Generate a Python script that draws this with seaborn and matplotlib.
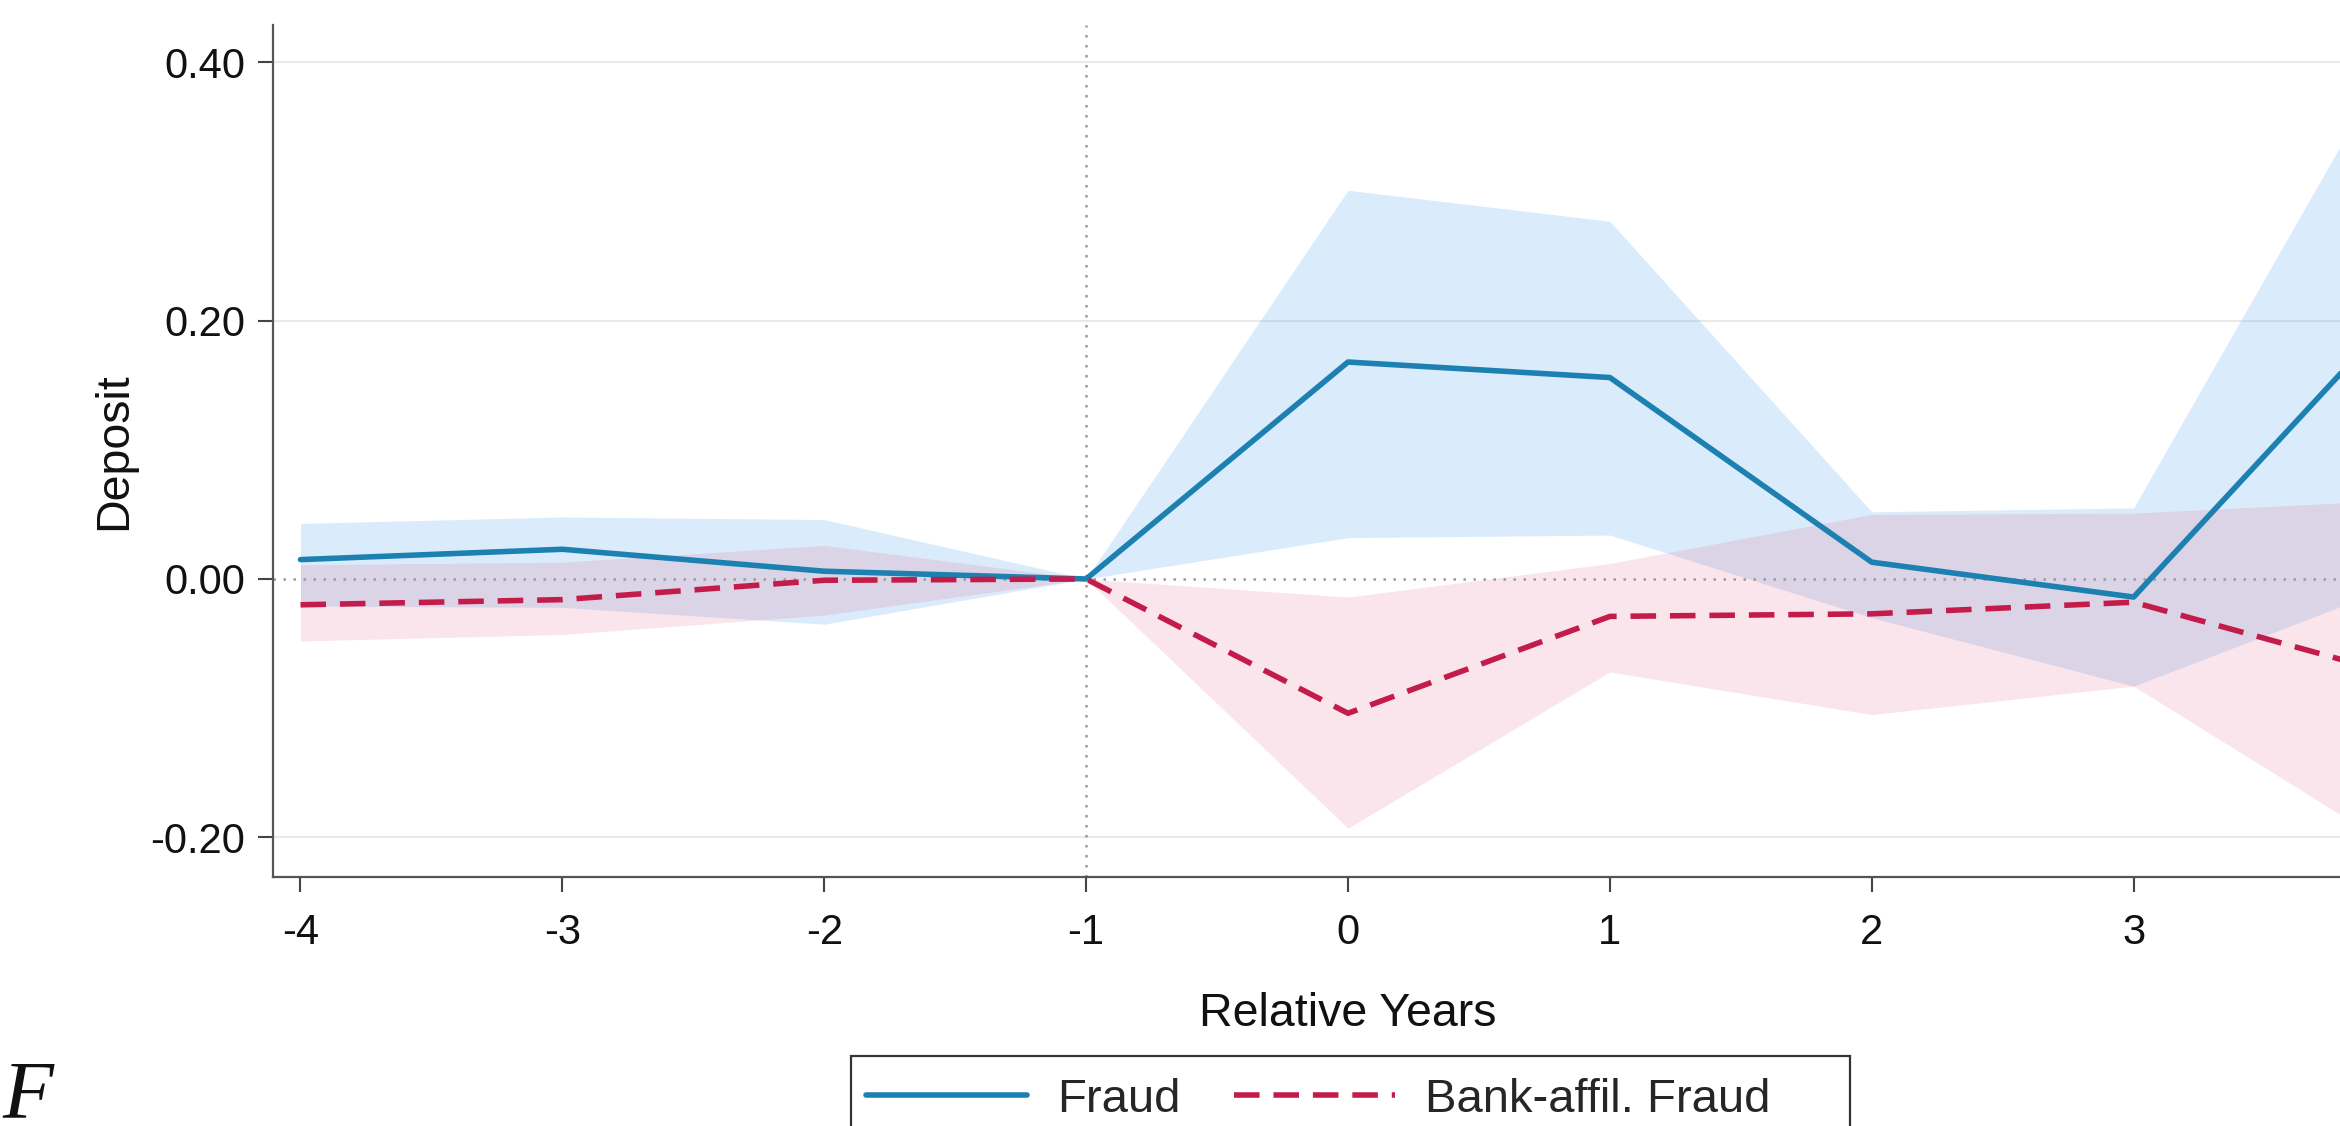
import matplotlib
matplotlib.use("Agg")
import matplotlib.pyplot as plt
import matplotlib.ticker as mticker
from matplotlib.patches import Rectangle
import pandas as pd
import seaborn as sns

# event-study estimates
years = [-4, -3, -2, -1, 0, 1, 2, 3, 4]
fraud = [0.015, 0.023, 0.006, 0.0, 0.168, 0.156, 0.013, -0.014, 0.205]
fraud_lo = [-0.021, -0.022, -0.035, 0.0, 0.032, 0.034, -0.030, -0.083, -0.005]
fraud_hi = [0.043, 0.048, 0.046, 0.0, 0.301, 0.277, 0.052, 0.055, 0.410]
bank = [-0.020, -0.016, -0.001, 0.0, -0.104, -0.029, -0.027, -0.018, -0.074]
bank_lo = [-0.048, -0.043, -0.028, 0.0, -0.193, -0.072, -0.105, -0.083, -0.209]
bank_hi = [0.011, 0.013, 0.026, 0.0, -0.014, 0.012, 0.050, 0.051, 0.061]

y_ticks = [-0.2, 0.0, 0.2, 0.4]
series_names = ["Fraud", "Bank-affil. Fraud"]

BLUE = "#1c80b0"
RED = "#c31c4a"
DASH = (4.6, 2.5)
LW = 4.0
W, H = 2340, 1126

sns.set_theme(style="white")
plt.rcParams["font.family"] = ["Liberation Sans", "DejaVu Sans"]
plt.rcParams["axes.unicode_minus"] = False

df = pd.DataFrame({
    "year": years * 2,
    "coef": fraud + bank,
    "group": [series_names[0]] * len(years) + [series_names[1]] * len(years),
})

fig = plt.figure(figsize=(W / 100, H / 100), dpi=100)
# axes runs past the right edge of the canvas, as in the cropped reference
ax = fig.add_axes([273 / W, (H - 877) / H, (2423 - 273) / W, (877 - 25) / H])

ax.fill_between(years, fraud_lo, fraud_hi, color=(0.40, 0.68, 0.95), alpha=0.24, lw=0, zorder=1)
ax.fill_between(years, bank_lo, bank_hi, color=(0.88, 0.40, 0.54), alpha=0.17, lw=0, zorder=1)

for yv in y_ticks:
    if yv != 0:
        ax.axhline(yv, color="#e9e9e9", lw=1.5, zorder=0)
ax.axhline(0, color="#9a9a9a", lw=1.8, ls=(0, (1, 3)), zorder=2)
ax.axvline(-1, color="#9a9a9a", lw=1.8, ls=(0, (1, 3)), zorder=2)

sns.lineplot(data=df, x="year", y="coef", hue="group", style="group",
             palette=[BLUE, RED], dashes={series_names[0]: "", series_names[1]: DASH},
             linewidth=LW, ax=ax, zorder=3, legend=False)

ax.set_xlim(-4.105, 4.105)
ax.set_ylim(-0.2308, 0.429)
ax.set_xticks(years[:-1])
ax.set_yticks(y_ticks)
ax.yaxis.set_major_formatter(mticker.FormatStrFormatter("%.2f"))
ax.xaxis.set_major_formatter(mticker.FormatStrFormatter("%d"))
ax.tick_params(axis="both", which="major", direction="out", length=11, width=1.5,
               color="#444444", labelsize=30, labelcolor="#111111", pad=9,
               bottom=True, left=True)
ax.tick_params(axis="x", pad=15)

sns.despine(ax=ax)
for side in ["left", "bottom"]:
    ax.spines[side].set_color("#555555")
    ax.spines[side].set_linewidth(1.6)

ax.set_xlabel("Relative Years", fontsize=33.5, color="#111111", labelpad=28)
ax.set_ylabel("Deposit", fontsize=33.5, color="#111111", labelpad=10)

handles = [
    plt.Line2D([], [], color=BLUE, lw=LW),
    plt.Line2D([], [], color=RED, lw=LW, dashes=DASH),
]
fig.legend(handles, series_names, ncol=2, frameon=False, loc="upper left",
           bbox_to_anchor=(866 / W, (H - 1078) / H), borderpad=0, borderaxespad=0,
           fontsize=34, handlelength=3.4, handletextpad=0.64, columnspacing=1.15)
fig.add_artist(Rectangle((851 / W, (H - 1160) / H), (1850 - 851) / W, (1160 - 1056) / H,
                         transform=fig.transFigure, fill=False, edgecolor="#333333", lw=1.6))

fig.text(0.001, (H - 1117) / H, "F", family=["Liberation Serif", "DejaVu Serif"],
         style="italic", fontsize=60, color="#111111", va="baseline", ha="left")

fig.savefig("out.png", dpi=100)
